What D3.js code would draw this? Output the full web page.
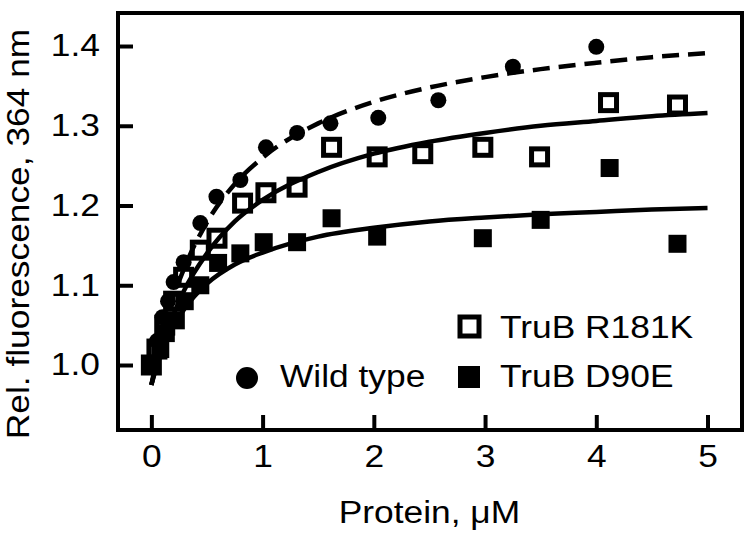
<!DOCTYPE html>
<html>
<head>
<meta charset="utf-8">
<script src="https://cdn.jsdelivr.net/npm/d3@7"></script>
<style>
    body { margin: 0; background: #fff; }
    text { font-family: "Liberation Sans", Arial, sans-serif; fill: #000; }
    .axis text { font-size: 31px; }
    .axis line { stroke: #000; stroke-width: 4px; }
    .legend text { font-size: 31px; }
</style>
</head>
<body>
<div id="vis"></div>
<script>
// measured points, [protein uM, relative fluorescence]
const wildType = [[0, 1.0], [0.05, 1.03], [0.1, 1.06], [0.15, 1.08], [0.2, 1.104], [0.29, 1.129],
    [0.44, 1.178], [0.585, 1.211], [0.8, 1.232], [1.03, 1.273], [1.31, 1.291], [1.61, 1.303],
    [2.04, 1.31], [2.58, 1.332], [3.25, 1.374], [4.0, 1.399]];
const r181k = [[0, 1.0], [0.05, 1.02], [0.12, 1.05], [0.2, 1.08], [0.29, 1.11], [0.44, 1.144],
    [0.59, 1.159], [0.82, 1.203], [1.03, 1.216], [1.31, 1.223], [1.62, 1.273], [2.03, 1.261],
    [2.44, 1.265], [2.98, 1.273], [3.49, 1.261], [4.11, 1.329], [4.73, 1.326]];
const d90e = [[0, 1.0], [0.08, 1.02], [0.13, 1.04], [0.22, 1.056], [0.3, 1.08], [0.44, 1.10],
    [0.6, 1.128], [0.8, 1.14], [1.01, 1.154], [1.31, 1.154], [1.62, 1.184], [2.03, 1.161],
    [2.98, 1.159], [3.5, 1.182], [4.12, 1.247], [4.73, 1.152]];

// fitted curves
const fitX = [0, 0.05, 0.1, 0.2, 0.3, 0.5, 0.75, 1, 1.5, 2, 2.5, 3, 3.5, 4, 4.5, 5];
const wildTypeFit = [0.975, 1.009, 1.038, 1.086, 1.123, 1.179, 1.227, 1.26, 1.303, 1.33, 1.348, 1.361, 1.371, 1.379, 1.386, 1.391];
const r181kFit = [0.975, 1.002, 1.025, 1.064, 1.095, 1.14, 1.18, 1.207, 1.242, 1.265, 1.28, 1.291, 1.3, 1.306, 1.312, 1.316];
const d90eFit = [0.975, 0.999, 1.019, 1.049, 1.071, 1.102, 1.126, 1.141, 1.161, 1.172, 1.18, 1.185, 1.189, 1.192, 1.195, 1.197];

const xTicks = [0, 1, 2, 3, 4, 5];
const yTicks = [1.0, 1.1, 1.2, 1.3, 1.4];

let margin = {top: 13, right: 8, bottom: 108, left: 118},
    width = 750 - margin.left - margin.right,
    height = 538 - margin.top - margin.bottom;

let svg = d3.select("#vis")
    .append("svg")
    .attr("width", 750)
    .attr("height", 538);

let x = d3.scaleLinear().domain([-0.3, 5.31]).range([0, width]);
let y = d3.scaleLinear().domain([0.9185, 1.4414]).range([height, 0]);

let g = svg.append("g")
    .attr("transform", "translate(" + margin.left + "," + margin.top + ")");

////////// axes //////////

g.append("g")
    .attr("class", "axis")
    .attr("transform", "translate(0," + height + ")")
    .call(d3.axisBottom(x).tickValues(xTicks).tickSize(-15).tickPadding(15).tickFormat(d3.format("d")))
    .call(a => a.select(".domain").remove())
    .selectAll("text").attr("font-size", null);

g.append("g")
    .attr("class", "axis")
    .call(d3.axisLeft(y).tickValues(yTicks).tickSize(-15).tickPadding(18).tickFormat(d3.format(".1f")))
    .call(a => a.select(".domain").remove())
    .selectAll("text").attr("font-size", null);

g.append("rect")
    .attr("width", width)
    .attr("height", height)
    .attr("fill", "none")
    .attr("stroke", "#000")
    .attr("stroke-width", 4);

svg.append("text")
    .attr("transform", "translate(29,234) rotate(-90)")
    .attr("text-anchor", "middle")
    .style("font-size", "31px")
    .text("Rel. fluorescence, 364 nm");

svg.append("text")
    .attr("x", margin.left + x(2.5))
    .attr("y", 523)
    .attr("text-anchor", "middle")
    .style("font-size", "31px")
    .text("Protein, \u03bcM");

////////// curves //////////

let line = d3.line()
    .x(d => x(d[0]))
    .y(d => y(d[1]))
    .curve(d3.curveMonotoneX);

const fits = [
    {values: wildTypeFit, dash: "17,9"},
    {values: r181kFit, dash: null},
    {values: d90eFit, dash: null}
];

fits.forEach(f => {
    g.append("path")
        .datum(fitX.map((v, i) => [v, f.values[i]]))
        .attr("d", line)
        .attr("fill", "none")
        .attr("stroke", "#000")
        .attr("stroke-width", 4.5)
        .attr("stroke-dasharray", f.dash);
});

////////// points //////////

g.selectAll(".wt")
    .data(wildType)
    .enter()
    .append("circle")
    .attr("class", "wt")
    .attr("cx", d => x(d[0]))
    .attr("cy", d => y(d[1]))
    .attr("r", 8)
    .attr("fill", "#000");

g.selectAll(".d90e")
    .data(d90e)
    .enter()
    .append("rect")
    .attr("class", "d90e")
    .attr("x", d => x(d[0]) - 9)
    .attr("y", d => y(d[1]) - 9)
    .attr("width", 18)
    .attr("height", 18)
    .attr("fill", "#000");

g.selectAll(".r181k")
    .data(r181k)
    .enter()
    .append("rect")
    .attr("class", "r181k")
    .attr("x", d => x(d[0]) - 8)
    .attr("y", d => y(d[1]) - 8)
    .attr("width", 16)
    .attr("height", 16)
    .attr("fill", "none")
    .attr("stroke", "#000")
    .attr("stroke-width", 5);

////////// legend //////////

let legend = svg.append("g").attr("class", "legend");

legend.append("circle")
    .attr("cx", 247).attr("cy", 378).attr("r", 11)
    .attr("fill", "#000");
legend.append("text").attr("x", 280).attr("y", 387).text("Wild type");

legend.append("rect")
    .attr("x", 460).attr("y", 317).attr("width", 19).attr("height", 19)
    .attr("fill", "none").attr("stroke", "#000").attr("stroke-width", 5);
legend.append("text").attr("x", 500).attr("y", 338).text("TruB R181K");

legend.append("rect")
    .attr("x", 458).attr("y", 366).attr("width", 22).attr("height", 22)
    .attr("fill", "#000");
legend.append("text").attr("x", 500).attr("y", 387).text("TruB D90E");

// the original lettering is a little wider than Arial
svg.selectAll("text").each(function () {
    let w = this.getComputedTextLength();
    d3.select(this)
        .attr("textLength", w * 1.14)
        .attr("lengthAdjust", "spacingAndGlyphs");
});
</script>
</body>
</html>
